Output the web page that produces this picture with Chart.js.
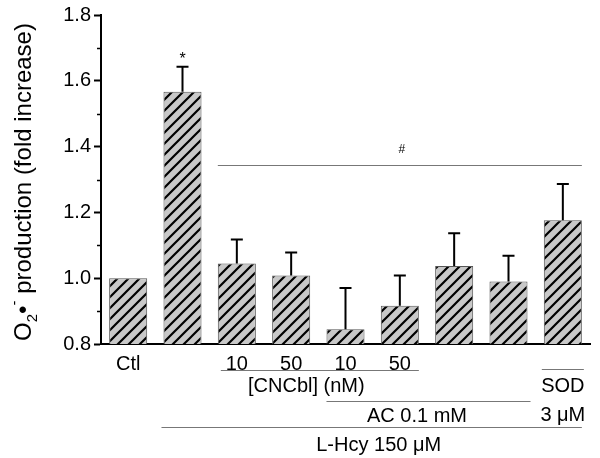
<!DOCTYPE html>
<html>
<head>
<meta charset="utf-8">
<script src="https://cdn.jsdelivr.net/npm/chart.js@4/dist/chart.umd.min.js"></script>
<style>
  html, body { margin: 0; padding: 0; background: #fff; }
  #wrap { width: 600px; height: 458px; }
</style>
</head>
<body>
<div id="wrap"><canvas id="c" width="600" height="458"></canvas></div>
<script>
// categories (bottom tick labels) and values
const tickLabels = ['Ctl', '', '10', '50', '10', '50', '', '', ''];
const means = [1.00, 1.567, 1.045, 1.008, 0.845, 0.916, 1.037, 0.990, 1.176];
const sems = [0, 0.076, 0.073, 0.070, 0.125, 0.092, 0.100, 0.078, 0.110];
const yTicks = [0.8, 1.0, 1.2, 1.4, 1.6, 1.8];

const FONT = '"Liberation Sans", Arial, sans-serif';

// hatched fill for the bars
function hatch() {
    const p = document.createElement('canvas');
    p.width = 11; p.height = 11;
    const g = p.getContext('2d');
    g.fillStyle = '#c8c8c8';
    g.fillRect(0, 0, 11, 11);
    g.strokeStyle = '#000';
    g.lineWidth = 2.2;
    g.beginPath();
    g.moveTo(-1, 12); g.lineTo(12, -1);
    g.moveTo(-2, 2); g.lineTo(2, -2);
    g.moveTo(9, 13); g.lineTo(13, 9);
    g.stroke();
    return g.createPattern(p, 'repeat');
}

const extras = {
    id: 'extras',
    afterDatasetsDraw(chart) {
        const ctx = chart.ctx;
        const x = chart.scales.x, y = chart.scales.y;
        const meta = chart.getDatasetMeta(0);
        ctx.save();

        // error bars (upper only)
        ctx.strokeStyle = '#000';
        ctx.lineWidth = 2;
        meta.data.forEach((bar, i) => {
            if (!sems[i]) return;
            const top = y.getPixelForValue(means[i] + sems[i]);
            ctx.beginPath();
            ctx.moveTo(bar.x, bar.y);
            ctx.lineTo(bar.x, top);
            ctx.moveTo(bar.x - 6, top);
            ctx.lineTo(bar.x + 6, top);
            ctx.stroke();
        });

        // minor ticks on the y axis
        ctx.lineWidth = 1.5;
        for (let v = 0.9; v < 1.8; v += 0.2) {
            const py = Math.round(y.getPixelForValue(v)) + 0.5;
            ctx.beginPath();
            ctx.moveTo(x.left - 4, py);
            ctx.lineTo(x.left, py);
            ctx.stroke();
        }

        const left = i => meta.data[i].x - meta.data[i].width / 2;
        const right = i => meta.data[i].x + meta.data[i].width / 2;
        const line = (x1, x2, py) => {
            ctx.beginPath();
            ctx.moveTo(x1, py + 0.5);
            ctx.lineTo(x2, py + 0.5);
            ctx.stroke();
        };
        const text = (s, px, py, size) => {
            ctx.font = size + 'px ' + FONT;
            ctx.fillText(s, px, py);
        };

        ctx.fillStyle = '#000';
        ctx.textAlign = 'center';
        ctx.textBaseline = 'middle';

        // significance marks
        text('*', meta.data[1].x, y.getPixelForValue(means[1] + sems[1]) - 7, 16);
        ctx.strokeStyle = '#777';
        ctx.lineWidth = 1;
        const hashY = Math.round(y.getPixelForValue(1.344));
        line(left(2), right(8), hashY);
        text('#', (left(2) + right(8)) / 2 + 2, hashY - 15, 12);

        // treatment labels below the axis
        line(left(2) + 3, right(5), 370);
        text('[CNCbl] (nM)', (left(2) + right(5)) / 2 - 12, 386, 20);
        line(left(8) - 2, right(8) + 2, 369);
        text('SOD', meta.data[8].x, 386, 20);
        text('3 \u03bcM', meta.data[8].x, 415, 20);
        line(left(4), right(7) + 3, 401);
        text('AC 0.1 mM', (left(4) + right(7)) / 2 - 10, 416, 20);
        line(left(1) - 2, right(8), 427);
        text('L-Hcy 150 \u03bcM', (left(1) + right(8)) / 2 + 6, 445, 20);

        // y axis title with sub/superscript
        ctx.translate(31, 182);
        ctx.rotate(-Math.PI / 2);
        ctx.textAlign = 'left';
        ctx.textBaseline = 'alphabetic';
        const big = '24px ' + FONT, small = '15px ' + FONT;
        const parts = [
            ['O', big, 0], ['2', small, 6], ['\u2022', big, 0], ['-', small, -12],
            [' production (fold increase)', big, 0]
        ];
        let w = 0;
        parts.forEach(p => { ctx.font = p[1]; w += ctx.measureText(p[0]).width; });
        let cx = -w / 2;
        parts.forEach(p => {
            ctx.font = p[1];
            ctx.fillText(p[0], cx, p[2]);
            cx += ctx.measureText(p[0]).width;
        });
        ctx.restore();
    }
};

new Chart(document.getElementById('c'), {
    type: 'bar',
    data: {
        labels: tickLabels,
        datasets: [{
            data: means,
            backgroundColor: hatch(),
            borderColor: '#555',
            borderWidth: 1,
            barPercentage: 0.7,
            categoryPercentage: 1.0
        }]
    },
    options: {
        responsive: false,
        animation: false,
        layout: { padding: { top: 15, right: 10, left: 0, bottom: 0 } },
        plugins: { legend: { display: false }, tooltip: { enabled: false } },
        scales: {
            x: {
                grid: { display: false, drawTicks: false },
                border: { display: true, color: '#000', width: 2 },
                ticks: { color: '#000', padding: 8, font: { family: FONT, size: 20 }, maxRotation: 0, autoSkip: false },
                afterFit(s) { s.height = 114; }
            },
            y: {
                min: 0.8,
                max: 1.8,
                afterBuildTicks(s) { s.ticks = yTicks.map(v => ({ value: v })); },
                grid: { drawOnChartArea: false, drawTicks: true, tickLength: 7, color: '#000', tickWidth: 2 },
                border: { display: true, color: '#000', width: 2 },
                ticks: {
                    color: '#000', padding: 3, font: { family: FONT, size: 20 },
                    callback: v => Number(v).toFixed(1)
                },
                afterFit(s) { s.width = 101; }
            }
        }
    },
    plugins: [extras]
});
</script>
</body>
</html>
